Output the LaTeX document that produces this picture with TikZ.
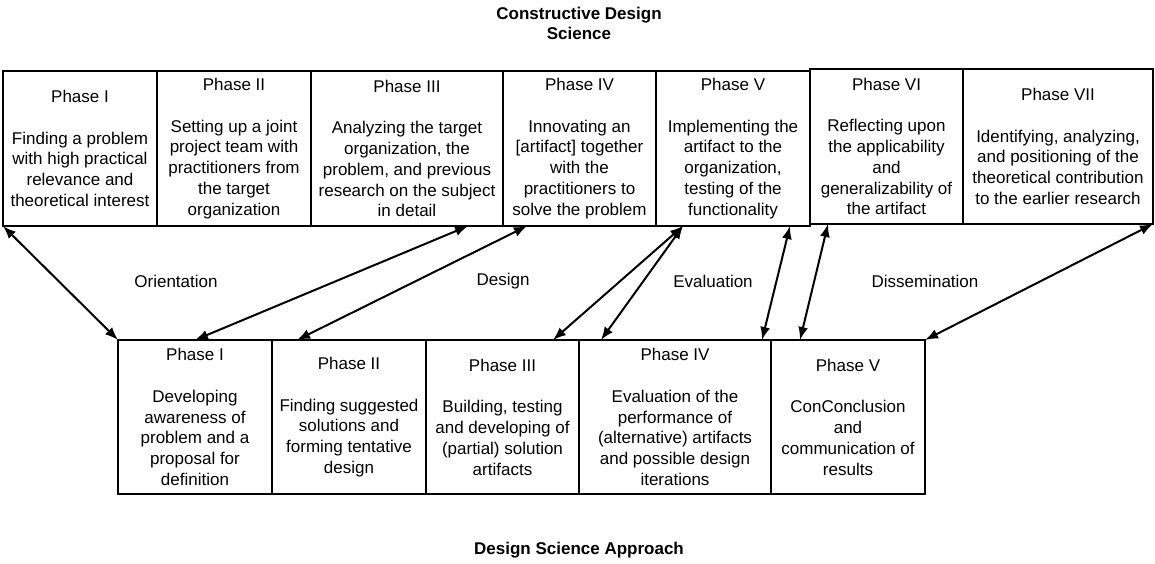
\documentclass[tikz,border=0pt]{standalone}
\usepackage{fontspec}
\setmainfont{Liberation Sans}
\usetikzlibrary{arrows.meta,positioning}
\tikzset{
  phasebox/.style={draw, line width=2pt, outer sep=0pt, inner sep=2pt,
                   align=center, minimum width=154pt, minimum height=155pt,
                   font=\fontsize{17pt}{20.8pt}\selectfont},
  widebox/.style={phasebox, minimum width=192pt},
  lowbox/.style={phasebox, minimum height=154pt},
  link/.style={{Latex[length=13pt,width=10pt]}-{Latex[length=13pt,width=10pt]},
               line width=2pt},
  stage/.style={font=\fontsize{17pt}{20.8pt}\selectfont},
  heading/.style={font=\bfseries\fontsize{17pt}{20pt}\selectfont, align=center}
}

\begin{document}
\begin{tikzpicture}[x=1pt, y=-1pt]
  \useasboundingbox (0,0) rectangle (1155,563);

  % constructive design science phases
  \node[heading] (cdstitle) at (579,23) {Constructive Design\\Science};
  \node[phasebox, anchor=north west] (c1) at (3,71)
    {Phase I\\[\baselineskip]Finding a problem\\with high practical\\relevance and\\theoretical interest};
  \node[phasebox, anchor=north west] (c2) at (c1.north east)
    {Phase II\\[\baselineskip]Setting up a joint\\project team with\\practitioners from\\the target\\organization};
  \node[widebox, anchor=north west] (c3) at (c2.north east)
    {Phase III\\[\baselineskip]Analyzing the target\\organization, the\\problem, and previous\\research on the subject\\in detail};
  \node[phasebox, minimum width=153pt, anchor=north west] (c4) at (c3.north east)
    {Phase IV\\[\baselineskip]Innovating an\\{}[artifact] together\\with the\\practitioners to\\solve the problem};
  \node[phasebox, anchor=north west] (c5) at (c4.north east)
    {Phase V\\[\baselineskip]Implementing the\\artifact to the\\organization,\\testing of the\\functionality};
  \node[phasebox, minimum width=153pt, anchor=north west] (c6) at ([yshift=2pt]c5.north east)
    {Phase VI\\[\baselineskip]Reflecting upon\\the applicability\\and\\generalizability of\\the artifact};
  \node[widebox, minimum width=190pt, anchor=north west] (c7) at (c6.north east)
    {Phase VII\\[\baselineskip]Identifying, analyzing,\\and positioning of the\\theoretical contribution\\to the earlier research};

  % design science approach phases
  \node[lowbox, anchor=north west] (d1) at (118,340)
    {Phase I\\[\baselineskip]Developing\\awareness of\\problem and a\\proposal for\\definition};
  \node[lowbox, anchor=north west] (d2) at (d1.north east)
    {Phase II\\[\baselineskip]Finding suggested\\solutions and\\forming tentative\\design};
  \node[lowbox, minimum width=153pt, anchor=north west] (d3) at (d2.north east)
    {Phase III\\[\baselineskip]Building, testing\\and developing of\\(partial) solution\\artifacts};
  \node[lowbox, minimum width=192pt, anchor=north west] (d4) at (d3.north east)
    {Phase IV\\[\baselineskip]Evaluation of the\\performance of\\(alternative) artifacts\\and possible design\\iterations};
  \node[lowbox, anchor=north west] (d5) at (d4.north east)
    {Phase V\\[\baselineskip]ConConclusion\\and\\communication of\\results};
  \node[heading] (dsatitle) at (579,550) {Design Science Approach};

  % stage labels
  \node[stage] (orient) at (176,281) {Orientation};
  \node[stage] (design) at (503,281) {Design};
  \node[stage] (evalu) at (713,281) {Evaluation};
  \node[stage] (dissem) at (925,281) {Dissemination};

  % mappings between the two approaches
  \draw[link] (c1.south west) -- (d1.north west);
  \draw[link] ([xshift=157pt]c3.south west) -- ([xshift=77pt]d1.north west);
  \draw[link] ([xshift=24pt]c4.south west) -- ([xshift=25pt]d2.north west);
  \draw[link] ([xshift=27pt]c5.south west) -- ([xshift=127pt]d3.north west);
  \draw[link] ([xshift=27pt]c5.south west) -- ([xshift=22pt]d4.north west);
  \draw[link] ([xshift=134pt]c5.south west) -- ([xshift=183pt]d4.north west);
  \draw[link] ([xshift=18pt]c6.south west) -- ([xshift=29pt]d5.north west);
  \draw[link] (c7.south east) -- (d5.north east);
\end{tikzpicture}
\end{document}
